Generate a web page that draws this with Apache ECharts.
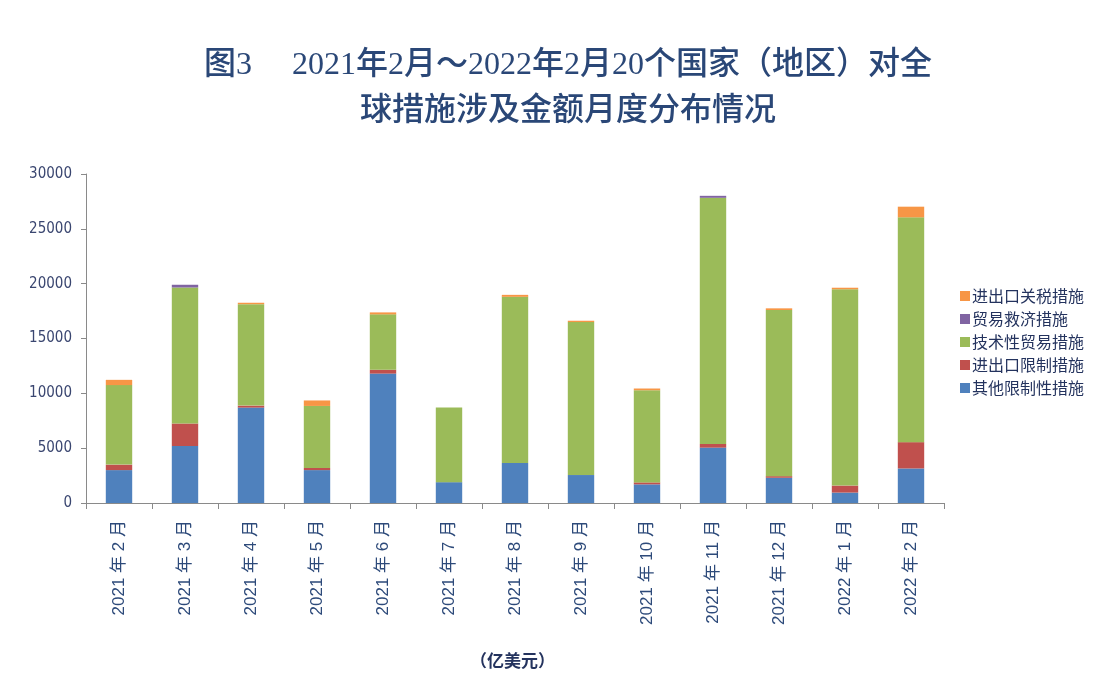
<!DOCTYPE html>
<html>
<head>
<meta charset="utf-8">
<style>
  html, body { margin: 0; padding: 0; background: #fff; }
  #chart { width: 1102px; height: 686px; }
</style>
<script src="https://cdn.jsdelivr.net/npm/echarts@6/dist/echarts.min.js"></script>
</head>
<body>
<div id="chart"></div>
<script>
// 月份
var months = ['2021年2月', '2021年3月', '2021年4月', '2021年5月', '2021年6月', '2021年7月',
    '2021年8月', '2021年9月', '2021年10月', '2021年11月', '2021年12月', '2022年1月', '2022年2月'];

// 各类措施涉及金额（亿美元），按堆叠顺序自下而上
var otherRestrict = [3000, 5200, 8700, 3000, 11800, 1900, 3650, 2550, 1700, 5050, 2300, 950, 3150];
var ioRestrict = [500, 2050, 180, 200, 350, 0, 0, 0, 180, 330, 150, 640, 2400];
var techTrade = [7250, 12400, 9250, 5650, 5050, 6800, 15150, 13950, 8400, 22450, 15150, 17900, 20500];
var tradeRemedy = [0, 250, 0, 0, 0, 0, 0, 0, 0, 180, 0, 0, 0];
var tariff = [480, 0, 130, 500, 180, 0, 180, 120, 160, 0, 150, 140, 970];

var yTicks = { min: 0, max: 30000, interval: 5000 };

var myChart = echarts.init(document.getElementById('chart'));

function barSeries(name, data, color) {
    return {
        name: name,
        type: 'bar',
        stack: 'total',
        barWidth: '40%',
        data: data,
        itemStyle: { color: color }
    };
}

var option = {
    animation: false,
    backgroundColor: '#fff',
    title: {
        text: '图3     2021年2月～2022年2月20个国家（地区）对全\n球措施涉及金额月度分布情况',
        left: 563,
        top: 38,
        textAlign: 'center',
        textStyle: {
            fontFamily: '"Liberation Serif", "Noto Sans CJK SC"',
            fontSize: 32,
            fontWeight: 500,
            color: '#2a4777',
            lineHeight: 46
        }
    },
    legend: {
        orient: 'vertical',
        left: 955,
        top: 283,
        itemWidth: 10,
        itemHeight: 10,
        itemGap: 7,
        icon: 'rect',
        data: ['进出口关税措施', '贸易救济措施', '技术性贸易措施', '进出口限制措施', '其他限制性措施'],
        textStyle: {
            fontFamily: 'Noto Sans CJK SC',
            fontSize: 16,
            color: '#24335e',
            padding: [0, 0, 0, -3]
        }
    },
    grid: {
        left: 86,
        right: 158,
        top: 174,
        bottom: 183
    },
    xAxis: {
        type: 'category',
        data: months,
        axisLine: { lineStyle: { color: '#8a8a8a', width: 1 } },
        axisTick: { show: true, alignWithLabel: false, length: 6, lineStyle: { color: '#8a8a8a' } },
        axisLabel: {
            rotate: 90,
            margin: 17,
            fontFamily: '"Liberation Sans", "Noto Sans CJK SC"',
            fontSize: 17,
            color: '#2d4a7a',
            formatter: function (v) {
                return v.replace(/(\d+)年(\d+)月/, '$1 年 $2 月');
            }
        }
    },
    yAxis: {
        type: 'value',
        min: yTicks.min,
        max: yTicks.max,
        interval: yTicks.interval,
        splitLine: { show: false },
        axisLine: { show: true, lineStyle: { color: '#8a8a8a', width: 1 } },
        axisTick: { show: true, length: 5, lineStyle: { color: '#8a8a8a' } },
        axisLabel: {
            margin: 14,
            fontFamily: '"DejaVu Sans Condensed", "Liberation Sans"',
            fontSize: 15,
            color: '#3a4670',
            formatter: function (v) { return String(v); }
        }
    },
    graphic: [{
        type: 'text',
        left: 470,
        top: 652,
        style: {
            text: '（亿美元）',
            fontFamily: 'Noto Sans CJK SC',
            fontSize: 17,
            fontWeight: 'bold',
            fill: '#24335e'
        }
    }],
    series: [
        barSeries('其他限制性措施', otherRestrict, '#4f81bd'),
        barSeries('进出口限制措施', ioRestrict, '#c0504d'),
        barSeries('技术性贸易措施', techTrade, '#9bbb59'),
        barSeries('贸易救济措施', tradeRemedy, '#8064a2'),
        barSeries('进出口关税措施', tariff, '#f79646')
    ]
};

myChart.setOption(option, true);
</script>
</body>
</html>
